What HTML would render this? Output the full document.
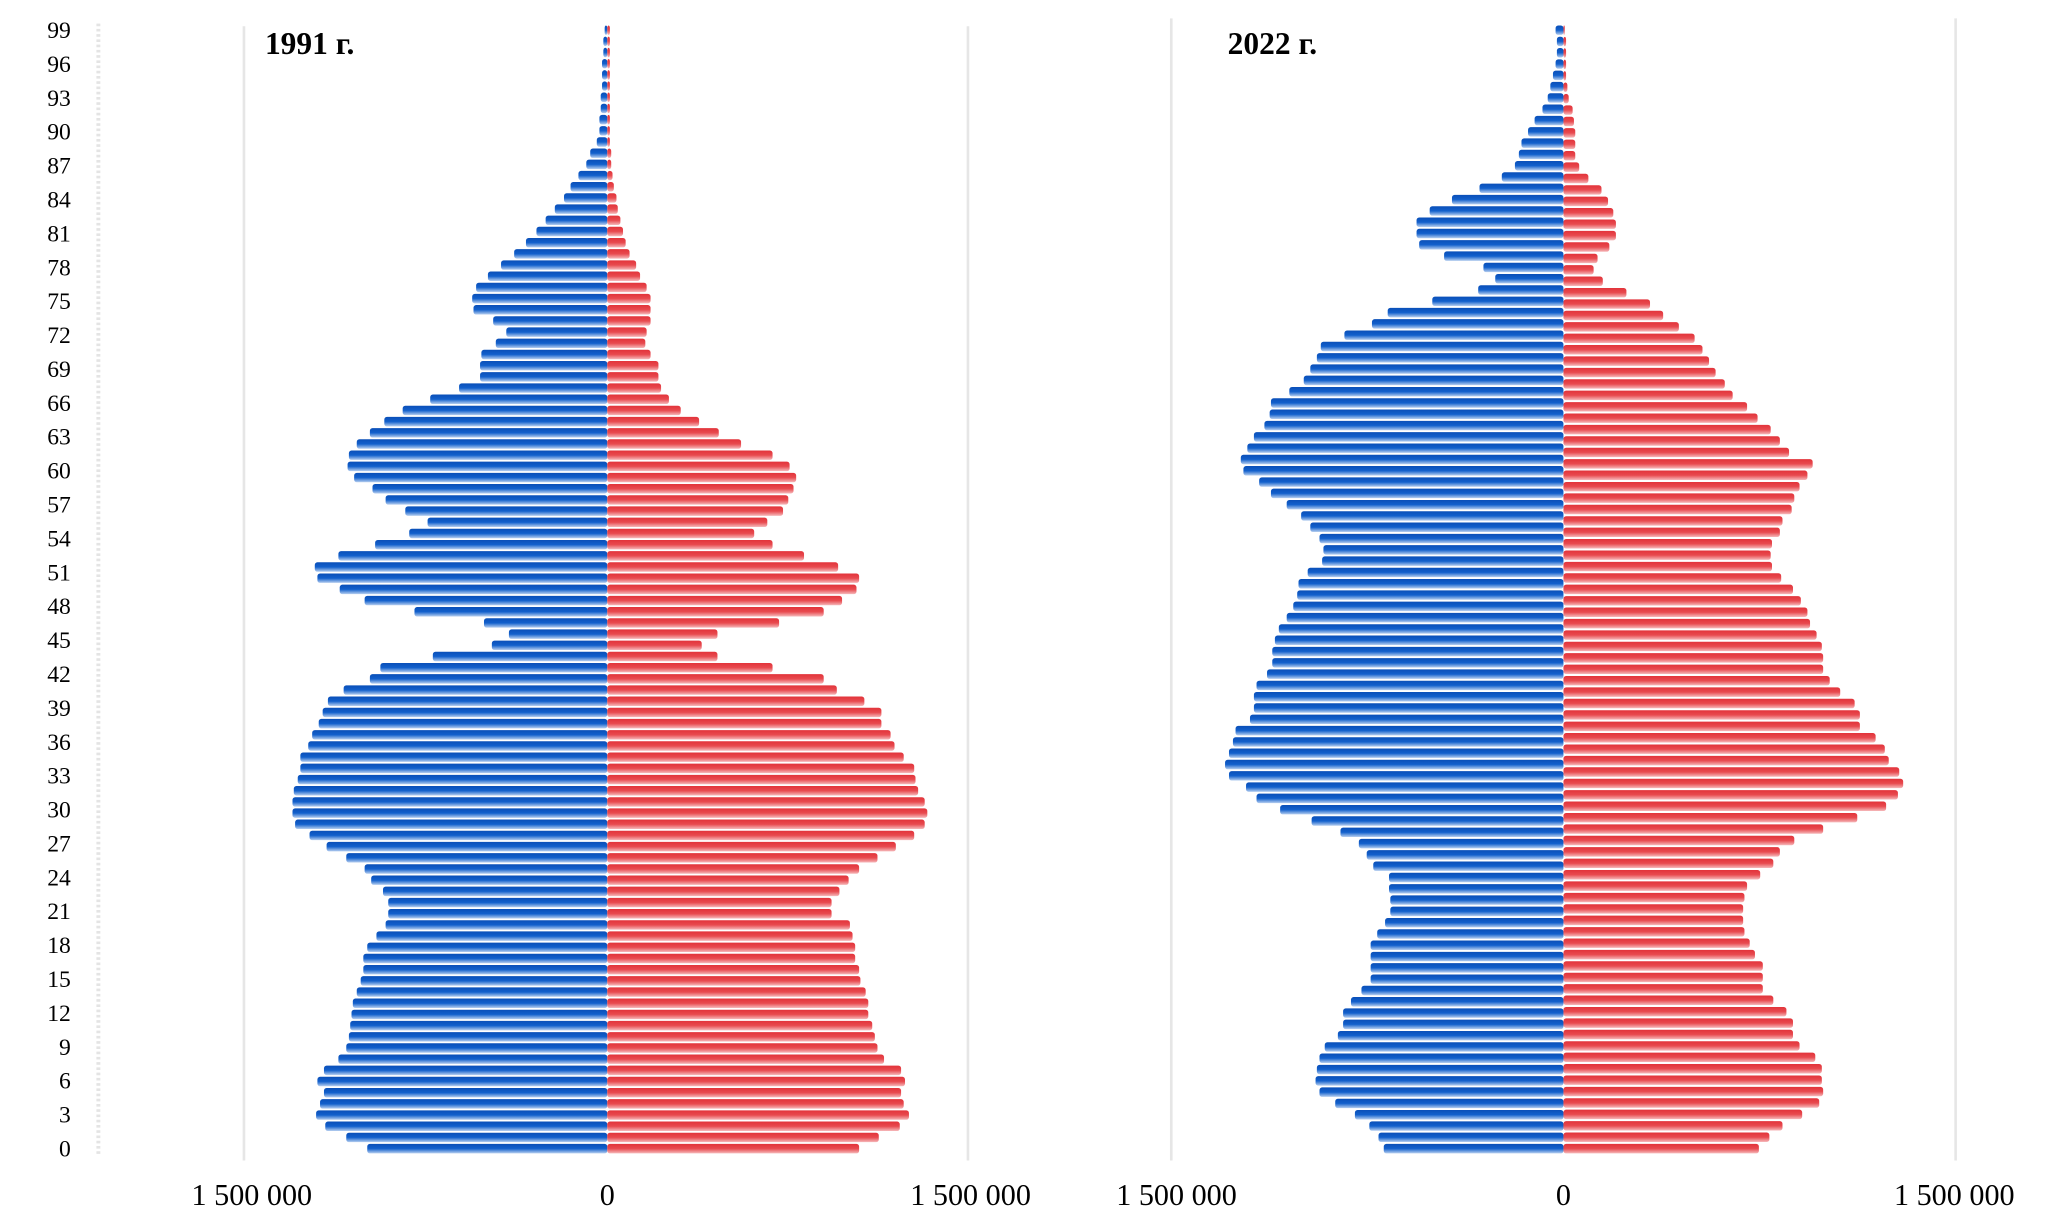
<!DOCTYPE html>
<html><head><meta charset="utf-8"><style>
html,body{margin:0;padding:0;background:#fff;}
svg{display:block;}
text{font-family:"Liberation Serif",serif;fill:#000;}
</style></head><body>
<svg id="s" width="2054" height="1226" viewBox="0 0 1566 935" preserveAspectRatio="none" xmlns="http://www.w3.org/2000/svg">
<defs>
<linearGradient id="gb" x1="0" y1="0" x2="0" y2="1">
<stop offset="0" stop-color="#0a4fb8"/><stop offset="0.5" stop-color="#1260cc"/><stop offset="1" stop-color="#b7cff0"/>
</linearGradient>
<linearGradient id="gr" x1="0" y1="0" x2="0" y2="1">
<stop offset="0" stop-color="#e2333a"/><stop offset="0.5" stop-color="#e84a4f"/><stop offset="1" stop-color="#f6b9bb"/>
</linearGradient>
</defs>
<line x1="75" y1="18" x2="75" y2="882" stroke="#e4e4e4" stroke-width="3" stroke-dasharray="2 2"/>
<line x1="186" y1="20" x2="186" y2="885" stroke="#e6e6e6" stroke-width="2"/>
<line x1="738" y1="20" x2="738" y2="885" stroke="#e6e6e6" stroke-width="2"/>
<line x1="893" y1="14" x2="893" y2="885" stroke="#e6e6e6" stroke-width="2"/>
<line x1="1491" y1="14" x2="1491" y2="885" stroke="#e6e6e6" stroke-width="2"/>
<g id="bars"></g>
<g id="lab" font-size="18" text-anchor="end"></g>
<text x="202" y="41" font-size="24" font-weight="bold">1991 г.</text>
<text x="936" y="41" font-size="24" font-weight="bold">2022 г.</text>
<g font-size="23" text-anchor="middle">
<text x="192" y="919">1 500 000</text>
<text x="463" y="919">0</text>
<text x="740" y="919">1 500 000</text>
<text x="897" y="919">1 500 000</text>
<text x="1192" y="919">0</text>
<text x="1490" y="919">1 500 000</text>
</g>
</svg>
<script>
var bL=[461,460,460,459,459,459,458,458,457,457,455,450,447,441,435,430,423,416,409,401,392,382,372,363,360,361,376,386,378,367,366,366,350,328,307,293,282,272,266,265,270,284,294,309,326,312,286,258,240,242,259,278,316,369,388,375,330,290,282,262,250,246,243,238,235,229,229,227,224,223,223,225,236,249,264,278,283,292,296,296,294,287,280,277,277,275,272,269,268,267,266,264,258,247,242,247,244,241,248,264,280];
var rR=[465,465,465,465,465,465,465,465,465,465,465,466,466,467,468,470,471,473,475,477,480,485,488,493,496,496,496,493,492,496,502,502,504,510,519,533,548,565,589,602,607,605,601,597,585,575,589,613,639,655,653,642,628,594,547,535,547,589,628,638,659,672,672,679,682,689,697,698,700,705,707,705,697,683,669,655,647,640,634,634,648,650,652,652,655,656,660,662,662,665,667,669,674,687,690,687,689,693,686,670,655];
var b2=[1186,1187,1187,1186,1184,1182,1180,1176,1170,1165,1160,1158,1155,1145,1128,1107,1090,1080,1080,1082,1101,1131,1140,1127,1092,1058,1046,1025,1007,1004,999,994,983,969,968,964,956,951,946,948,960,969,981,992,999,1006,1009,1008,997,990,989,986,981,975,972,970,970,966,958,956,956,953,942,940,937,934,937,950,958,976,1000,1022,1036,1042,1047,1059,1059,1060,1060,1056,1050,1045,1045,1045,1045,1038,1030,1024,1024,1020,1010,1006,1004,1003,1006,1018,1033,1044,1051,1055];
var r2=[1193,1194,1194,1194,1194,1195,1196,1199,1200,1201,1201,1201,1204,1211,1221,1226,1230,1232,1232,1227,1218,1215,1222,1240,1258,1268,1280,1292,1298,1303,1308,1315,1321,1332,1340,1350,1357,1364,1382,1378,1372,1368,1366,1359,1357,1351,1350,1351,1358,1367,1373,1378,1380,1385,1389,1390,1390,1395,1403,1414,1418,1418,1430,1437,1440,1448,1451,1447,1438,1416,1390,1368,1357,1352,1342,1332,1330,1329,1329,1330,1334,1338,1344,1344,1344,1352,1362,1367,1367,1372,1384,1389,1389,1390,1387,1374,1359,1349,1341];
var ns="http://www.w3.org/2000/svg",g=document.getElementById("bars");
function R(x,y,w,f){var r=document.createElementNS(ns,"rect");r.setAttribute("x",x);r.setAttribute("y",y);r.setAttribute("width",Math.max(w,0.8));r.setAttribute("height",7.2);r.setAttribute("rx",2);r.setAttribute("fill",f);g.appendChild(r);}
function draw(arr,c,left){var n=arr.length;for(var i=0;i<n;i++){var y=23+i*853/(n-1)-3.6;if(left)R(arr[i],y,c-arr[i],"url(#gb)");else R(c,y,arr[i]-c,"url(#gr)");}}
draw(bL,463,1);draw(rR,463,0);draw(b2,1192,1);draw(r2,1192,0);
var l=document.getElementById("lab");
for(var a=0;a<=99;a+=3){var t=document.createElementNS(ns,"text");t.setAttribute("x",54);t.setAttribute("y",876-a*853/99+6);t.textContent=a;l.appendChild(t);}
</script>
</body></html>
